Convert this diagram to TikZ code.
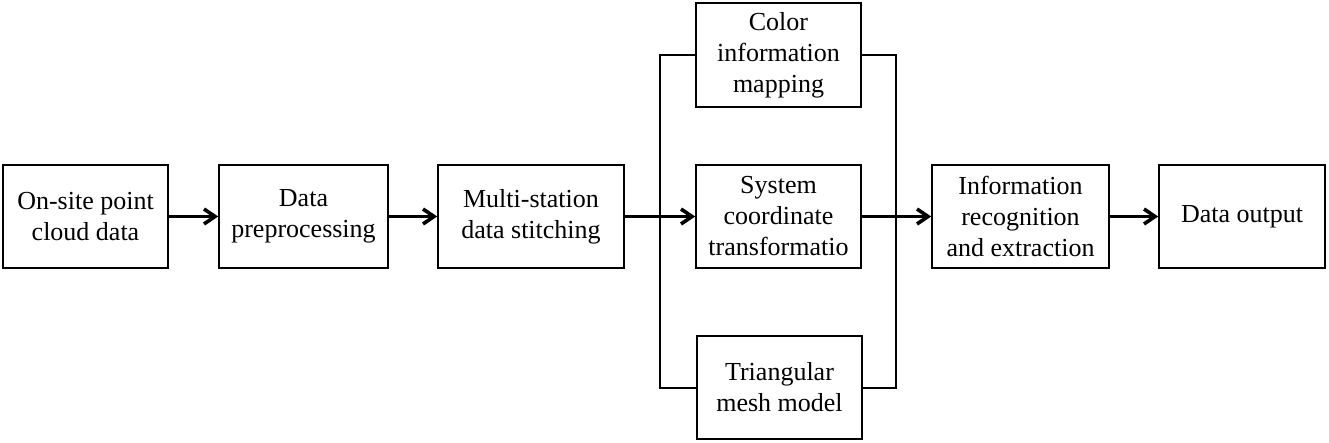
\documentclass[tikz,border=0pt]{standalone}
\usepackage{fontspec}
\setmainfont{Liberation Serif}
\usetikzlibrary{arrows.meta}
\begin{document}
\begin{tikzpicture}[x=1pt,y=-1pt,
  blk/.style={draw,line width=1.6pt,inner sep=0pt,align=center,
    font=\fontsize{26}{31}\selectfont},
  flow/.style={line width=3.3pt,-{Straight Barb[length=11pt,width=15pt,line width=3.6pt]}},
  brk/.style={line width=1.6pt}]
\useasboundingbox (0,0) rectangle (1329,442);
\node[blk,minimum width=165pt,minimum height=103pt] (a) at (85.5,216.5) {On-site point\\cloud data};
\node[blk,minimum width=169pt,minimum height=103pt] (b) at (303.5,216.5) {Data\\preprocessing};
\node[blk,minimum width=186pt,minimum height=103pt] (c) at (531,216.5) {Multi-station\\data stitching};
\node[blk,minimum width=165pt,minimum height=104pt] (d) at (778.5,55) {Color\\information\\mapping};
\node[blk,minimum width=165pt,minimum height=103pt] (e) at (778.5,216.5) {System\\coordinate\\transformatio};
\node[blk,minimum width=165pt,minimum height=103pt] (f) at (779.5,387.5) {Triangular\\mesh model};
\node[blk,minimum width=177pt,minimum height=103pt] (g) at (1020.5,216.5) {Information\\recognition\\and extraction};
\node[blk,minimum width=166pt,minimum height=103pt] (h) at (1242,216.5) {Data output};
\coordinate (lt) at (660,55);
\coordinate (lb) at (660,388);
\coordinate (rt) at (896,55);
\coordinate (rb) at (896,388);
\draw[brk] (d.west |- lt) -- (lt) -- (lb) -- (f.west |- lb);
\draw[brk] (d.east |- rt) -- (rt) -- (rb) -- (f.east |- rb);
\draw[flow] (a) -- (b);
\draw[flow] (b) -- (c);
\draw[flow] (c) -- (e);
\draw[flow] (e) -- (g);
\draw[flow] (g) -- (h);
\end{tikzpicture}
\end{document}
